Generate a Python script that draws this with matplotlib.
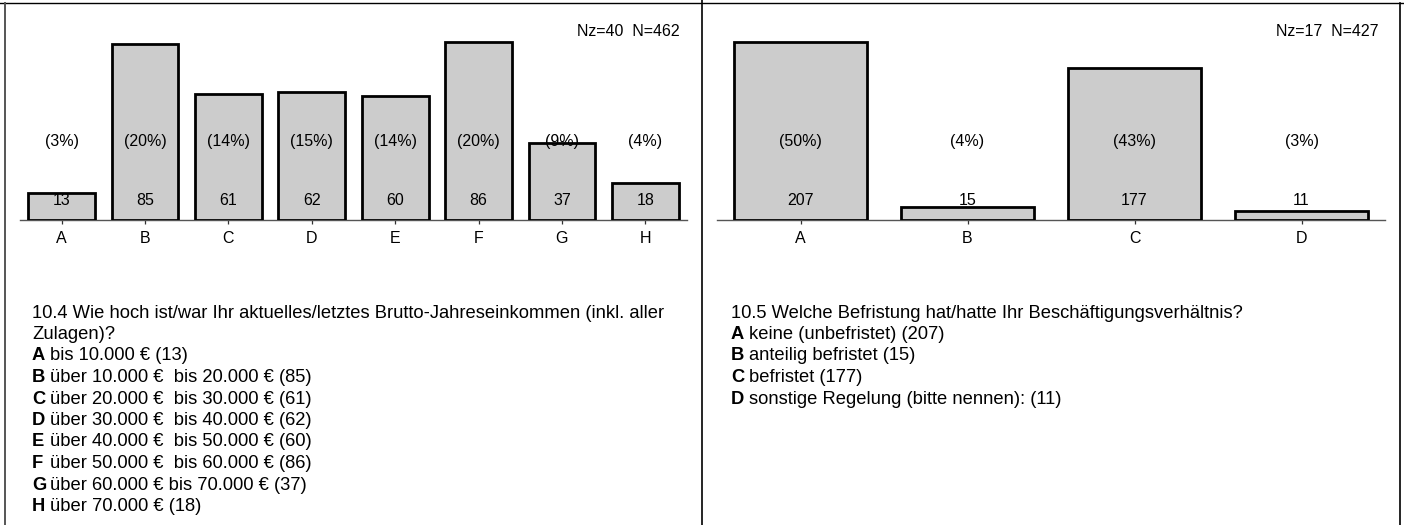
import matplotlib.pyplot as plt
from matplotlib.lines import Line2D

plt.rcParams['font.family'] = ['Liberation Sans', 'DejaVu Sans']

# Daten
cats_l = ['A', 'B', 'C', 'D', 'E', 'F', 'G', 'H']
counts_l = [13, 85, 61, 62, 60, 86, 37, 18]
pct_l = [3, 20, 14, 15, 14, 20, 9, 4]
nz_l = 'Nz=40  N=462'
frage_l = ['10.4 Wie hoch ist/war Ihr aktuelles/letztes Brutto-Jahreseinkommen (inkl. aller',
           'Zulagen)?']
opts_l = ['bis 10.000 € (13)',
          'über 10.000 €  bis 20.000 € (85)',
          'über 20.000 €  bis 30.000 € (61)',
          'über 30.000 €  bis 40.000 € (62)',
          'über 40.000 €  bis 50.000 € (60)',
          'über 50.000 €  bis 60.000 € (86)',
          'über 60.000 € bis 70.000 € (37)',
          'über 70.000 € (18)']

cats_r = ['A', 'B', 'C', 'D']
counts_r = [207, 15, 177, 11]
pct_r = [50, 4, 43, 3]
nz_r = 'Nz=17  N=427'
frage_r = ['10.5 Welche Befristung hat/hatte Ihr Beschäftigungsverhältnis?']
opts_r = ['keine (unbefristet) (207)',
          'anteilig befristet (15)',
          'befristet (177)',
          'sonstige Regelung (bitte nennen): (11)']

W, H = 1404, 525
FS = 11.5      # Beschriftung im Diagramm
FS_TXT = 13.2  # Fragetext
fig = plt.figure(figsize=(W / 100, H / 100), dpi=100)


def fx(x):
    return x / W


def fy(y):
    return 1 - y / H


def panel(x0, x1, tx, cats, counts, pct, nz, frage, opts):
    ax = fig.add_axes([fx(x0), fy(220), fx(x1 - x0), 200 / H])
    n = len(cats)
    xs = list(range(n))
    ax.bar(xs, counts, width=0.8, color='#cccccc', edgecolor='black',
           linewidth=2.0, zorder=3)
    ax.set_xlim(-0.5, n - 0.5)
    ax.set_ylim(0, max(counts) * 200 / 178)
    for s in ['top', 'left', 'right']:
        ax.spines[s].set_visible(False)
    ax.spines['bottom'].set_color('#555555')
    ax.spines['bottom'].set_linewidth(1.0)
    ax.set_yticks([])
    ax.set_xticks(xs)
    ax.set_xticklabels(cats)
    ax.tick_params(axis='x', direction='inout', length=6, width=0.9,
                   color='#333333', labelsize=FS, pad=5)
    tr = ax.get_xaxis_transform()
    for i in xs:
        ax.text(i, 0.395, '(%d%%)' % pct[i], transform=tr, ha='center',
                va='center', fontsize=FS, zorder=4)
        ax.text(i, 0.1, str(counts[i]), transform=tr, ha='center',
                va='center', fontsize=FS, zorder=4)
    fig.text(fx(x1 - 7), fy(32), nz, ha='right', va='center', fontsize=FS)

    # Fragetext und Antwortoptionen
    y = 313
    for line in frage:
        fig.text(fx(tx), fy(y), line, ha='left', va='center', fontsize=FS_TXT)
        y += 21.5
    for c, o in zip(cats, opts):
        fig.text(fx(tx), fy(y), c, ha='left', va='center', fontsize=FS_TXT,
                 fontweight='bold')
        fig.text(fx(tx + 18), fy(y), o, ha='left', va='center', fontsize=FS_TXT)
        y += 21.5


panel(20, 687, 32, cats_l, counts_l, pct_l, nz_l, frage_l, opts_l)
panel(717, 1385, 731, cats_r, counts_r, pct_r, nz_r, frage_r, opts_r)

# Rahmen
fig.add_artist(Line2D([0, 1], [fy(3), fy(3)], color='black', lw=1.0))
fig.add_artist(Line2D([fx(4.5), fx(4.5)], [0, fy(3)], color='#555555', lw=1.4))
fig.add_artist(Line2D([fx(702), fx(702)], [0, 1], color='black', lw=1.2))
fig.add_artist(Line2D([fx(1400), fx(1400)], [0, fy(3)], color='black', lw=1.2))

fig.savefig('out.png', dpi=100)
